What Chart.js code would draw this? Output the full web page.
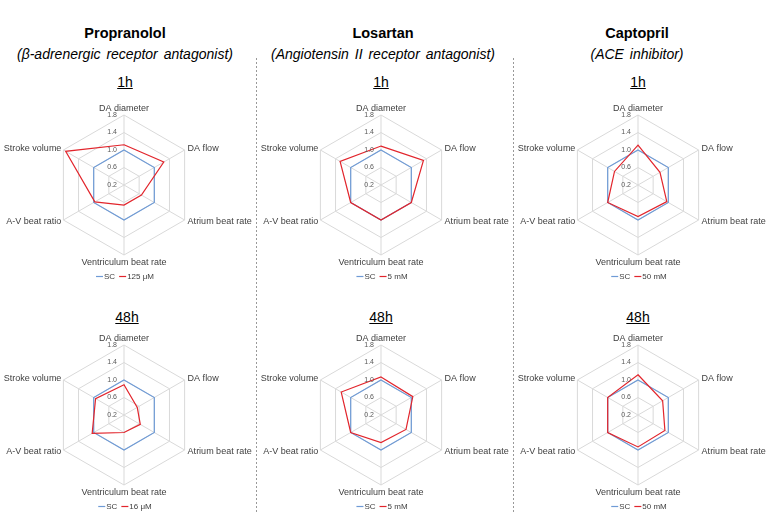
<!DOCTYPE html>
<html>
<head>
<meta charset="utf-8">
<script src="https://cdn.jsdelivr.net/npm/chart.js@4.4.0/dist/chart.umd.min.js"></script>
<style>
  body { margin: 0; background: #fff; font-family: "Liberation Sans", Arial, sans-serif; }
  #page { position: relative; width: 771px; height: 524px; overflow: hidden; }
  canvas { position: absolute; }
  .title { position: absolute; width: 256px; text-align: center; font-weight: bold; font-size: 14.5px; line-height: 14.5px; color: #000; }
  .sub { position: absolute; width: 256px; text-align: center; font-style: italic; font-size: 14px; line-height: 14px; color: #000; white-space: nowrap; word-spacing: 2px; }
  .time { position: absolute; width: 256px; text-align: center; font-size: 14px; line-height: 14px; text-decoration: underline; color: #000; }
  .dash { position: absolute; width: 1px; top: 58px; height: 456px;
    background: repeating-linear-gradient(to bottom, #999 0 2.5px, transparent 2.5px 4px); }
</style>
</head>
<body>
<div id="page">
  <div class="title" style="left:-3px; top:26px;">Propranolol</div>
  <div class="sub" style="left:-3px; top:47px;">(β-adrenergic receptor antagonist)</div>
  <div class="title" style="left:255px; top:26px;">Losartan</div>
  <div class="sub" style="left:255px; top:47px;">(Angiotensin II receptor antagonist)</div>
  <div class="title" style="left:509px; top:26px;">Captopril</div>
  <div class="sub" style="left:509px; top:47px;">(ACE inhibitor)</div>

  <div class="time" style="left:-3px; top:75px;">1h</div>
  <div class="time" style="left:253px; top:75px;">1h</div>
  <div class="time" style="left:510px; top:75px;">1h</div>
  <div class="time" style="left:-1px; top:310px;">48h</div>
  <div class="time" style="left:253px; top:310px;">48h</div>
  <div class="time" style="left:510px; top:310px;">48h</div>

  <div class="dash" style="left:256px;"></div>
  <div class="dash" style="left:513px;"></div>

  <canvas id="c1" width="256" height="195" style="left:0px; top:95px;"></canvas>
  <canvas id="c2" width="256" height="195" style="left:257px; top:95px;"></canvas>
  <canvas id="c3" width="256" height="195" style="left:514px; top:95px;"></canvas>
  <canvas id="c4" width="256" height="195" style="left:0px; top:325px;"></canvas>
  <canvas id="c5" width="256" height="195" style="left:257px; top:325px;"></canvas>
  <canvas id="c6" width="256" height="195" style="left:514px; top:325px;"></canvas>
</div>

<script>
//Axis names, clockwise from the top
const axisLabels = ['DA diameter', 'DA flow', 'Atrium beat rate', 'Ventriculum beat rate', 'A-V beat ratio', 'Stroke volume'];
const tickValues = [0.2, 0.6, 1.0, 1.4, 1.8];

//Control (SC) is normalised to 1
const scValues = [1, 1, 1, 1, 1, 1];

//Treated values, relative to SC
const propranolol1h = [1.12, 1.25, 0.66, 0.66, 0.97, 1.74];
const losartan1h = [1.09, 1.32, 1.0, 1.0, 1.0, 1.28];
const captopril1h = [1.11, 0.78, 0.96, 0.92, 1.0, 0.82];
const propranolol48h = [0.89, 0.55, 0.63, 0.6, 1.04, 0.95];
const losartan48h = [1.07, 1.04, 0.86, 0.83, 1.0, 1.25];
const captopril48h = [1.12, 0.85, 0.91, 0.93, 1.0, 1.0];

//Doses shown in the legends
const doseLabels = ['125 μM', '5 mM', '50 mM', '16 μM', '5 mM', '50 mM'];

const FONT = '"Liberation Sans", Arial, sans-serif';
const BLUE = '#6f9bd6';
const RED = '#e2252c';

//Draws tick numbers, axis names and the small legend the way the original does
const excelLabels = {
  id: 'excelLabels',
  afterDraw(chart) {
    const ctx = chart.ctx;
    const r = chart.scales.r;
    ctx.save();

    //tick numbers, left of the vertical axis
    ctx.font = '7px ' + FONT;
    ctx.fillStyle = '#595959';
    ctx.textAlign = 'right';
    ctx.textBaseline = 'middle';
    tickValues.forEach(v => {
      const d = r.getDistanceFromCenterForValue(v);
      ctx.fillText(v.toFixed(1), r.xCenter - 7, r.yCenter - d);
    });

    //axis names
    ctx.font = '9px ' + FONT;
    ctx.fillStyle = '#404040';
    chart.data.labels.forEach((lbl, i) => {
      const p = r.getPointPosition(i, r.drawingArea);
      const dx = p.x - r.xCenter;
      if (Math.abs(dx) < 1) {
        ctx.textAlign = 'center';
        if (p.y < r.yCenter) {
          ctx.textBaseline = 'bottom';
          ctx.fillText(lbl, p.x, p.y - 2);
        } else {
          ctx.textBaseline = 'top';
          ctx.fillText(lbl, p.x, p.y + 3);
        }
      } else {
        ctx.textBaseline = 'middle';
        const yy = p.y < r.yCenter ? p.y - 1 : p.y + 1.5;
        if (dx > 0) {
          ctx.textAlign = 'left';
          ctx.fillText(lbl, p.x + 3, yy);
        } else {
          ctx.textAlign = 'right';
          ctx.fillText(lbl, p.x - 2, yy);
        }
      }
    });

    //legend
    ctx.font = '8px ' + FONT;
    const items = chart.data.datasets.map(ds => ({ text: ds.label, color: ds.borderColor }));
    const lineLen = 7, gapLine = 1, gapItem = 4;
    let total = 0;
    items.forEach((it, k) => {
      it.w = ctx.measureText(it.text).width;
      total += lineLen + gapLine + it.w + (k < items.length - 1 ? gapItem : 0);
    });
    let x = r.xCenter + 1 - total / 2;
    const y = r.yCenter + 91.5;
    items.forEach(it => {
      ctx.strokeStyle = it.color;
      ctx.lineWidth = 1.2;
      ctx.beginPath();
      ctx.moveTo(x, y);
      ctx.lineTo(x + lineLen, y);
      ctx.stroke();
      x += lineLen + gapLine;
      ctx.fillStyle = '#404040';
      ctx.textAlign = 'left';
      ctx.textBaseline = 'middle';
      ctx.fillText(it.text, x, y);
      x += it.w + gapItem;
    });
    ctx.restore();
  }
};

function makeRadar(id, dose, values) {
  return new Chart(id, {
    type: 'radar',
    data: {
      labels: axisLabels,
      datasets: [{
        label: 'SC',
        data: scValues,
        borderColor: BLUE,
        borderWidth: 1.2,
        pointRadius: 0,
        fill: false,
        order: 1
      }, {
        label: dose,
        data: values,
        borderColor: RED,
        borderWidth: 1.2,
        pointRadius: 0,
        fill: false,
        order: 0
      }]
    },
    options: {
      responsive: false,
      animation: false,
      layout: { padding: { left: 54, right: 62, top: 20, bottom: 35 } },
      plugins: { legend: { display: false }, tooltip: { enabled: false } },
      scales: {
        r: {
          min: 0.2,
          max: 1.8,
          ticks: { stepSize: 0.4, display: false },
          pointLabels: { display: false },
          grid: { color: '#d9d9d9', lineWidth: 1 },
          angleLines: { color: '#d9d9d9', lineWidth: 1 }
        }
      }
    },
    plugins: [excelLabels]
  });
}

makeRadar('c1', doseLabels[0], propranolol1h);
makeRadar('c2', doseLabels[1], losartan1h);
makeRadar('c3', doseLabels[2], captopril1h);
makeRadar('c4', doseLabels[3], propranolol48h);
makeRadar('c5', doseLabels[4], losartan48h);
makeRadar('c6', doseLabels[5], captopril48h);
</script>
</body>
</html>
